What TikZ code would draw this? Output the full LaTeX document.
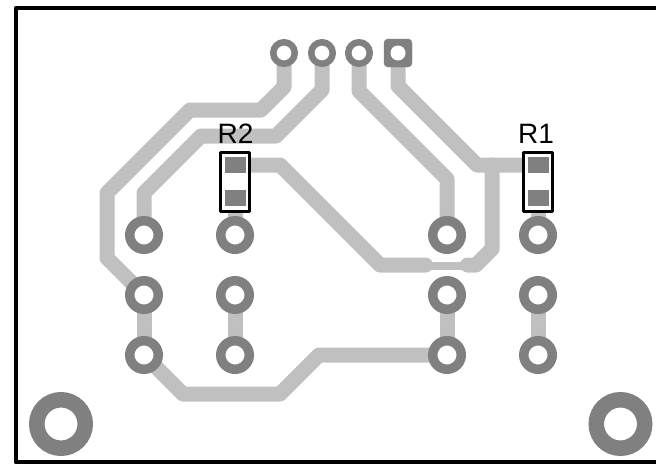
\documentclass[tikz,border=0pt]{standalone}
\usepackage{fontspec}
\setmainfont{Liberation Sans}
\definecolor{tracegray}{HTML}{C0C0C0}
\definecolor{padgray}{HTML}{808080}
\tikzset{
	track/.style = {draw = tracegray, line width = 15pt, line join = round, line cap = round},
	thintrack/.style = {draw = tracegray, line width = 8pt},
	ring/.style = {circle, draw = padgray, fill = white, inner sep = 0pt, line width = 9.5pt, minimum size = 28.5pt},
	smallring/.style = {circle, draw = padgray, fill = white, inner sep = 0pt, line width = 6.5pt, minimum size = 21.5pt},
	squarepad/.style = {draw = padgray, fill = padgray, rounded corners = 4pt, minimum size = 28pt, inner sep = 0pt},
	squarehole/.style = {circle, fill = white, inner sep = 0pt, minimum size = 15pt},
	hole/.style = {circle, draw = padgray, fill = white, inner sep = 0pt, line width = 15.5pt, minimum size = 48.5pt},
	smdpad/.style = {fill = padgray, inner sep = 0pt, minimum width = 21pt, minimum height = 16.5pt},
	partbox/.style = {draw = black, line width = 3.5pt, line join = round, fill = white, inner sep = 0pt, minimum width = 29pt, minimum height = 59pt},
	partname/.style = {font = \fontsize{28pt}{28pt}\selectfont, anchor = base, inner sep = 0pt}
}
\begin{document}
\begin{tikzpicture}[x = 1pt, y = -1pt]
	\useasboundingbox (0, 0) rectangle (656, 464);
	% pad centres
	\coordinate (top1) at (284, 53);
	\coordinate (top2) at (322, 53);
	\coordinate (top3) at (359, 53);
	\coordinate (top4) at (398, 53);
	\foreach \col/\x in {a/144, b/235, c/447, d/538} {
		\coordinate (\col1) at (\x, 235);
		\coordinate (\col2) at (\x, 295);
		\coordinate (\col3) at (\x, 355);
	}
	\coordinate (r2top) at (235, 165);
	\coordinate (r2low) at (235, 198);
	\coordinate (r1top) at (538, 165);
	\coordinate (r1low) at (538, 198);
	% tracks
	\draw[track] (top1)--(284, 87)--(261, 110)--(190, 110)--(107, 193)--(107, 258)--(a2);
	\draw[track] (top2)--(322, 90)--(276, 136)--(201, 136)--(144, 193)--(a1);
	\draw[track] (top3)--(359, 91)--(447, 179)--(c1);
	\draw[track] (top4)--(398, 86)--(477, 165)--(r1top);
	\draw[track] (r2top)--(280, 165)--(380, 265)--(425.5, 265);
	\draw[thintrack] (430, 266)--(463, 266);
	\draw[track] (467.5, 265)--(476, 265)--(492, 249)--(492, 165);
	\draw[track] (a3)--(183, 394)--(280, 394)--(319, 355)--(c3);
	\foreach \col in {a, b, c, d} {
		\draw[track] (\col2)--(\col3);
	}
	\draw[track] (r2low)--(b1);
	\draw[track] (r1low)--(d1);
	% resistors
	\node[partbox] (r2box) at (235, 182) {};
	\node[partbox] (r1box) at (538, 182) {};
	\node[smdpad] (r2a) at (r2top) {};
	\node[smdpad] (r2b) at (r2low) {};
	\node[smdpad] (r1a) at (r1top) {};
	\node[smdpad] (r1b) at (r1low) {};
	\node[partname] (r2name) at (235.5, 143) {R2};
	\node[partname] (r1name) at (536, 143) {R1};
	% pads
	\foreach \col in {a, b, c, d} {
		\foreach \row in {1, 2, 3} {
			\node[ring] (pad\col\row) at (\col\row) {};
		}
	}
	\node[smallring] (pad1) at (top1) {};
	\node[smallring] (pad2) at (top2) {};
	\node[smallring] (pad3) at (top3) {};
	\node[squarepad] (pad4) at (top4) {};
	\node[squarehole] (pad4hole) at (top4) {};
	\node[hole] (holeleft) at (61, 424) {};
	\node[hole] (holeright) at (620.5, 424) {};
	% board edge
	\draw[black, line width = 4pt, line join = round] (656, 8)--(15.7, 8)--(15.7, 462.3)--(656, 462.3);
\end{tikzpicture}
\end{document}
